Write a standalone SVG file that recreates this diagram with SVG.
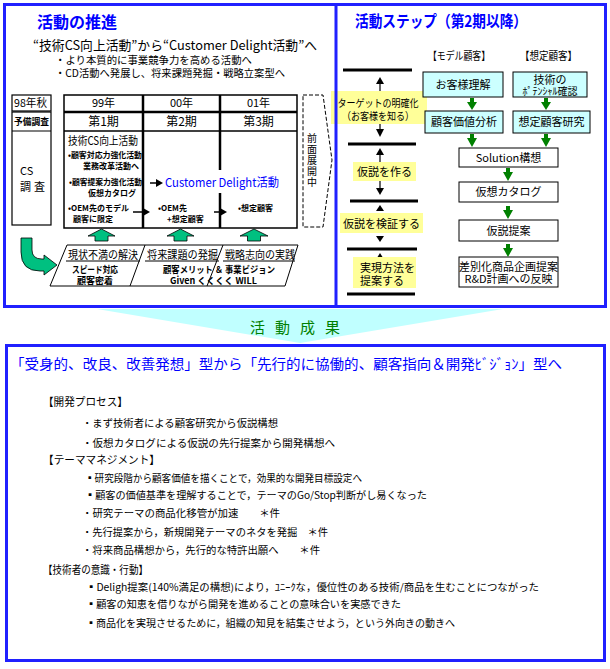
<svg xmlns="http://www.w3.org/2000/svg" width="610" height="669" viewBox="0 0 610 669">
<style>
text { font-family: "Noto Sans CJK JP", "Liberation Sans", sans-serif; fill: #000; }
.t11 { font-size: 11px; }
.t10 { font-size: 10px; }
.t9 { font-size: 9px; }
.sm { font-size: 8px; font-weight: bold; }
.title { font-size: 16px; font-weight: bold; fill: #0000ff; }
.mid { text-anchor: middle; }
.frame { fill: none; stroke: #2020ff; stroke-width: 3; }
.ln { stroke: #000; fill: none; }
.bar { stroke: #000; stroke-width: 3; }
.yel { fill: #ffff99; stroke: none; }
.cyan { fill: #ccffff; stroke: #000; stroke-width: 1; }
.wbox { fill: #fff; stroke: #000; stroke-width: 1; }
.garrow { fill: #00c080; stroke: #000; stroke-width: 0.8; }
.dgarrow { fill: #008000; }
.head { fill: #000; }
</style>

<!-- frames -->
<g id="frames">
  <rect class="frame" x="4.5" y="4.5" width="601" height="302"/>
  <polygon points="97,309 503,309 300,343" fill="#c0ffff"/>
  <rect class="frame" x="6.5" y="345.5" width="598" height="315"/>
</g>

<!-- ===== LEFT PANEL ===== -->
<g id="left-title">
  <text class="title" x="37" y="28">活動の推進</text>
  <text x="33" y="50" font-size="13" textLength="284" lengthAdjust="spacingAndGlyphs">“技術CS向上活動”から“Customer Delight活動”へ</text>
  <text x="55" y="64" font-size="10.5" textLength="197" lengthAdjust="spacingAndGlyphs">・より本質的に事業競争力を高める活動へ</text>
  <text x="55" y="77" font-size="10.5" textLength="230" lengthAdjust="spacingAndGlyphs">・CD活動へ発展し、将来課題発掘・戦略立案型へ</text>
</g>

<g id="pre-survey">
  <rect class="ln" x="12" y="95" width="39" height="16" stroke-width="1.2"/>
  <text class="t11" x="14" y="107" textLength="33" lengthAdjust="spacingAndGlyphs">98年秋</text>
  <rect class="ln" x="12" y="112" width="39" height="113" stroke-width="1.2"/>
  <line class="ln" x1="12" y1="131" x2="51" y2="131" stroke-width="1.2"/>
  <text x="14" y="125" font-size="9" font-weight="bold" textLength="35" lengthAdjust="spacingAndGlyphs">予備調査</text>
  <text class="t11" x="20" y="175">CS<tspan x="20" y="191" letter-spacing="3">調査</tspan></text>
</g>

<g id="table">
  <rect class="ln" x="64" y="95" width="233" height="133" stroke-width="1.5"/>
  <line class="ln" x1="64" y1="112" x2="297" y2="112" stroke-width="2.5"/>
  <line class="ln" x1="64" y1="131" x2="297" y2="131" stroke-width="1.5"/>
  <line class="ln" x1="143" y1="95" x2="143" y2="228" stroke-width="2.5"/>
  <line class="ln" x1="220" y1="95" x2="220" y2="170" stroke-width="2.5"/>
  <line class="ln" x1="220" y1="193" x2="220" y2="228" stroke-width="2.5"/>
  <text class="t11 mid" x="103.5" y="107">99年</text>
  <text class="t11 mid" x="181.5" y="107">00年</text>
  <text class="t11 mid" x="258.5" y="107">01年</text>
  <text class="mid" x="103.5" y="126" font-size="12">第1期</text>
  <text class="mid" x="181.5" y="126" font-size="12">第2期</text>
  <text class="mid" x="258.5" y="126" font-size="12">第3期</text>
  <text x="68" y="145" font-size="11.5" textLength="70" lengthAdjust="spacingAndGlyphs">技術CS向上活動</text>
  <text class="sm" x="68" y="158"><tspan textLength="74" lengthAdjust="spacingAndGlyphs">•顧客対応力強化活動</tspan><tspan x="83" y="169">業務改革活動へ</tspan></text>
  <text class="sm" x="69" y="185"><tspan textLength="73" lengthAdjust="spacingAndGlyphs">•顧客提案力強化活動</tspan><tspan x="88" y="196">仮想カタログ</tspan></text>
  <text class="sm" x="68" y="211">•OEM先のモデル<tspan x="73" y="222">顧客に限定</tspan></text>
  <line class="ln" x1="150" y1="183" x2="157" y2="183" stroke-width="1.5"/>
  <polygon class="head" points="156,179 163,183 156,187"/>
  <text x="165" y="187" font-size="12" textLength="114" lengthAdjust="spacingAndGlyphs" style="fill:#0000ff">Customer Delight活動</text>
  <line class="ln" x1="133" y1="212" x2="143" y2="212" stroke-width="1.5"/>
  <polygon class="head" points="143,208 150,212 143,216"/>
  <text class="sm" x="158" y="211">•OEM先<tspan x="167" y="222">+想定顧客</tspan></text>
  <line class="ln" x1="214" y1="212" x2="221" y2="212" stroke-width="1.5"/>
  <polygon class="head" points="220,208 227,212 220,216"/>
  <text class="sm" x="238" y="211">•想定顧客</text>
</g>

<g id="full-deploy">
  <polygon points="303,95 323,95 332,160 323,227 303,227" fill="none" stroke="#000" stroke-width="1" stroke-dasharray="4,2"/>
  <text x="312" y="133" font-size="10" letter-spacing="1" style="writing-mode: vertical-rl">前面展開中</text>
</g>

<g id="up-arrows">
  <polygon class="garrow" points="88,236 101.5,229 115,236 108,236 108,241 95,241 95,236"/>
  <polygon class="garrow" points="167,236 180.5,229 194,236 187,236 187,241 174,241 174,236"/>
  <polygon class="garrow" points="240,236 254,229 268,236 260.5,236 260.5,241 247.5,241 247.5,236"/>
  <path class="garrow" d="M21,238 L32,238 L32,250 Q32,259 42,259 L44,259 L44,255 L57,265 L44,275 L44,271 L40,271 Q21,271 21,252 Z"/>
</g>

<g id="stages">
  <polygon points="67,245 298,245 285,286 50,286" fill="#fff" stroke="#000" stroke-width="1"/>
  <line class="ln" x1="145" y1="245" x2="130" y2="286" stroke-width="1"/>
  <line class="ln" x1="223" y1="245" x2="207" y2="286" stroke-width="1"/>
  <text x="68" y="259" font-size="11" textLength="70" lengthAdjust="spacingAndGlyphs">現状不満の解決</text>
  <line class="ln" x1="66" y1="261" x2="140" y2="261" stroke-width="1"/>
  <text x="147" y="259" font-size="11" textLength="71" lengthAdjust="spacingAndGlyphs">将来課題の発掘</text>
  <line class="ln" x1="145" y1="261" x2="219" y2="261" stroke-width="1"/>
  <text x="225" y="259" font-size="11" textLength="70" lengthAdjust="spacingAndGlyphs">戦略志向の実践</text>
  <line class="ln" x1="223" y1="261" x2="295" y2="261" stroke-width="1"/>
  <text class="mid" x="95" y="273" font-size="9" font-weight="bold"><tspan textLength="46" lengthAdjust="spacingAndGlyphs">スピード対応</tspan><tspan x="95" y="284">顧客密着</tspan></text>
  <text x="163" y="273" font-size="9" font-weight="bold"><tspan textLength="112" lengthAdjust="spacingAndGlyphs">顧客メリット ＆ 事業ビジョン</tspan><tspan x="170" y="284" textLength="87" lengthAdjust="spacingAndGlyphs">Given くくくく WILL</tspan></text>
</g>

<!-- ===== RIGHT PANEL ===== -->
<g id="right-title">
  <text class="title" x="355" y="27" textLength="172" lengthAdjust="spacingAndGlyphs">活動ステップ（第2期以降）</text>
  <text class="t11" x="428" y="60" textLength="62" lengthAdjust="spacingAndGlyphs">【モデル顧客】</text>
  <text class="t11" x="520" y="60" textLength="57" lengthAdjust="spacingAndGlyphs">【想定顧客】</text>
</g>

<g id="steps">
  <rect class="yel" x="331" y="91" width="96" height="33"/>
  <rect class="yel" x="353" y="162" width="63" height="19"/>
  <rect class="yel" x="340" y="213" width="83" height="20"/>
  <rect class="yel" x="353" y="257" width="63" height="31"/>
  <line class="bar" x1="343" y1="70" x2="412" y2="70"/>
  <line class="bar" x1="348" y1="144" x2="416" y2="144"/>
  <line class="bar" x1="350" y1="201" x2="418" y2="201"/>
  <line class="bar" x1="347" y1="249" x2="417" y2="249"/>
  <line class="bar" x1="347" y1="294" x2="415" y2="294"/>
  <line class="ln" x1="380" y1="83" x2="380" y2="91" stroke-width="1.2"/>
  <polygon class="head" points="376,84 380,77 384,84"/>
  <line class="ln" x1="380" y1="124" x2="380" y2="130" stroke-width="1.2"/>
  <polygon class="head" points="376,129 380,137 384,129"/>
  <line class="ln" x1="380" y1="154" x2="380" y2="162" stroke-width="1.2"/>
  <polygon class="head" points="376,155 380,148 384,155"/>
  <line class="ln" x1="380" y1="181" x2="380" y2="189" stroke-width="1.2"/>
  <polygon class="head" points="376,188 380,195 384,188"/>
  <polygon class="head" points="376,211 380,205 384,211"/>
  <polygon class="head" points="376,236 380,242 384,236"/>
  <polygon class="head" points="377.5,257 380,253 382.5,257"/>
  <text class="mid" x="378" y="107" font-size="10.5"><tspan textLength="81" lengthAdjust="spacingAndGlyphs">ターゲットの明確化</tspan><tspan x="378" y="120" textLength="72" lengthAdjust="spacingAndGlyphs">（お客様を知る）</tspan></text>
  <text class="t11 mid" x="384.5" y="176">仮説を作る</text>
  <text class="t11 mid" x="381.5" y="228">仮説を検証する</text>
  <text class="t11" x="360" y="272">実現方法を<tspan x="360" y="285">提案する</tspan></text>
</g>

<g id="model-customer">
  <rect class="cyan" x="423" y="72" width="80" height="25"/>
  <text class="t11 mid" x="463" y="89">お客様理解</text>
  <rect class="cyan" x="425" y="111" width="78" height="22"/>
  <text class="t11 mid" x="464" y="126">顧客価値分析</text>
</g>
<g id="assumed-customer">
  <rect class="cyan" x="513" y="72" width="74" height="25"/>
  <text class="t11 mid" x="550" y="84">技術の<tspan class="t10" x="550" y="95">ﾎﾟﾃﾝｼｬﾙ確認</tspan></text>
  <rect class="cyan" x="513" y="111" width="77" height="22"/>
  <text class="t11 mid" x="551.5" y="126">想定顧客研究</text>
</g>
<g id="solution-flow">
  <rect class="wbox" x="459" y="148" width="99" height="19"/>
  <text class="t11 mid" x="508.5" y="162">Solution構想</text>
  <rect class="wbox" x="459" y="182" width="99" height="20"/>
  <text class="t11 mid" x="508.5" y="196">仮想カタログ</text>
  <rect class="wbox" x="459" y="220" width="99" height="21"/>
  <text class="t11 mid" x="508.5" y="235">仮説提案</text>
  <rect class="wbox" x="459" y="257" width="99" height="30"/>
  <text class="t11 mid" x="508.5" y="271">差別化商品企画提案<tspan x="508.5" y="283">R&amp;D計画への反映</tspan></text>
</g>
<g id="connectors">
  <polygon class="dgarrow" points="470,98 474,98 474,102 477,102 472,110 467,102 470,102"/>
  <polygon class="dgarrow" points="544,98 548,98 548,102 551,102 546,110 541,102 544,102"/>
  <polygon class="dgarrow" points="470,134 474,134 474,138 477,138 472,147 467,138 470,138"/>
  <polygon class="dgarrow" points="544,134 548,134 548,138 551,138 546,147 541,138 544,138"/>
  <polygon class="dgarrow" points="506,168 510,168 510,172 513,172 508,181 503,172 506,172"/>
  <polygon class="dgarrow" points="506,206 510,206 510,210 513,210 508,219 503,210 506,210"/>
  <polygon class="dgarrow" points="506,244 510,244 510,248 513,248 508,257 503,248 506,248"/>
</g>

<line x1="336" y1="4.5" x2="336" y2="306.5" stroke="#2020ff" stroke-width="3"/>

<!-- ===== RESULTS ===== -->
<g id="results-label">
  <text class="mid" x="300" y="333" font-size="15" letter-spacing="10" style="fill:#008000">活動成果</text>
</g>
<g id="results">
  <text x="10" y="369" font-size="14" textLength="552" lengthAdjust="spacingAndGlyphs" style="fill:#0000ff">「受身的、改良、改善発想」型から「先行的に協働的、顧客指向＆開発ﾋﾞｼﾞｮﾝ」型へ</text>
  <text class="t11" x="43" y="406" textLength="85" lengthAdjust="spacingAndGlyphs">【開発プロセス】</text>
  <text class="t10" x="82" y="427" textLength="196" lengthAdjust="spacingAndGlyphs">・まず技術者による顧客研究から仮説構想</text>
  <text class="t10" x="82" y="447" textLength="253" lengthAdjust="spacingAndGlyphs">・仮想カタログによる仮説の先行提案から開発構想へ</text>
  <text class="t11" x="43" y="464" textLength="117" lengthAdjust="spacingAndGlyphs">【テーママネジメント】</text>
  <text class="t10" x="85" y="482" textLength="277" lengthAdjust="spacingAndGlyphs">▪研究段階から顧客価値を描くことで，効果的な開発目標設定へ</text>
  <text class="t10" x="85" y="499" textLength="342" lengthAdjust="spacingAndGlyphs">▪顧客の価値基準を理解することで，テーマのGo/Stop判断がし易くなった</text>
  <text class="t10" x="82" y="517" textLength="198" lengthAdjust="spacingAndGlyphs">・研究テーマの商品化移管が加速　　＊件</text>
  <text class="t10" x="82" y="536" textLength="246" lengthAdjust="spacingAndGlyphs">・先行提案から，新規開発テーマのネタを発掘　＊件</text>
  <text class="t10" x="82" y="554" textLength="238" lengthAdjust="spacingAndGlyphs">・将来商品構想から，先行的な特許出願へ　　＊件</text>
  <text class="t11" x="43" y="574" textLength="105" lengthAdjust="spacingAndGlyphs">【技術者の意識・行動】</text>
  <text class="t10" x="86" y="591" textLength="453" lengthAdjust="spacingAndGlyphs">▪Deligh提案(140%満足の構想)により，ﾕﾆｰｸな，優位性のある技術/商品を生むことにつながった</text>
  <text class="t10" x="86" y="608" textLength="315" lengthAdjust="spacingAndGlyphs">▪顧客の知恵を借りながら開発を進めることの意味合いを実感できた</text>
  <text class="t10" x="86" y="627" textLength="369" lengthAdjust="spacingAndGlyphs">▪商品化を実現させるために，組織の知見を結集させよう，という外向きの動きへ</text>
</g>
</svg>
